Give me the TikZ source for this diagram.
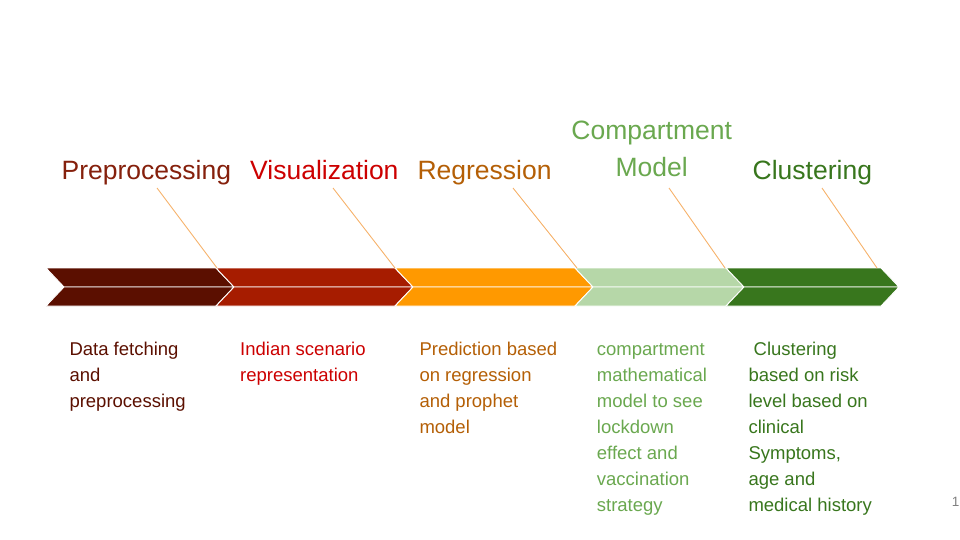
\documentclass[tikz,border=0pt]{standalone}
\usepackage{fontspec}
\setmainfont{Liberation Sans}
\definecolor{segA}{HTML}{5B0F00}
\definecolor{segB}{HTML}{A61C00}
\definecolor{segC}{HTML}{FF9900}
\definecolor{segD}{HTML}{B6D7A8}
\definecolor{segE}{HTML}{38761D}
\definecolor{txtA}{HTML}{85200C}
\definecolor{bodyA}{HTML}{5B0F00}
\definecolor{txtB}{HTML}{CC0000}
\definecolor{txtC}{HTML}{B45F06}
\definecolor{txtD}{HTML}{6AA84F}
\definecolor{txtE}{HTML}{38761D}
\definecolor{callout}{HTML}{F6B26B}
\begin{document}
\begin{tikzpicture}[x=1pt,y=-1pt,
  titletext/.style={inner sep=0pt,anchor=base west,font=\fontsize{26.5}{37}\selectfont},
  bodytext/.style={inner sep=0pt,anchor=base west,align=left,font=\fontsize{18.5}{26}\selectfont},
  piece/.style={draw=white,line width=0.9pt,line join=miter},
  calloutline/.style={draw=callout,line width=0.9pt}]
\useasboundingbox (0,0) rectangle (960,540);

% chevron band: each step is split into an upper and a lower half
\foreach \l/\r/\c in {46/216/segA,216/395/segB,395/575/segC,575/726/segD,726/881/segE}{
  \fill[\c,piece] (\l,268) -- (\r,268) -- (\r+18,287) -- (\l+18,287) -- cycle;
  \fill[\c,piece] (\l+18,287) -- (\r+18,287) -- (\r,306) -- (\l,306) -- cycle;
}

% step titles (multi-line nodes are placed by the baseline of their last line)
\node[titletext,text=txtA] (tA) at (61.5,179.3) {Preprocessing};
\node[titletext,text=txtB] (tB) at (250,179.3) {Visualization};
\node[titletext,text=txtC] (tC) at (417.3,179.8) {Regression};
\node[titletext,text=txtD,anchor=base,align=center] (tD) at (651.7,176.5) {Compartment\\Model};
\node[titletext,text=txtE] (tE) at (752.5,179.8) {Clustering};

% callout lines from the titles to the step corners
\coordinate (pA) at (157,188);  \coordinate (kA) at (217,268);
\coordinate (pB) at (333,188);  \coordinate (kB) at (395,268);
\coordinate (pC) at (513,188);  \coordinate (kC) at (577,268);
\coordinate (pD) at (669,188);  \coordinate (kD) at (725,268);
\coordinate (pE) at (822,188);  \coordinate (kE) at (877,268);
\foreach \s in {A,B,C,D,E}{\draw[calloutline] (p\s) -- (k\s);}

% step descriptions
\node[bodytext,text=bodyA] (dA) at (69.3,407.7) {Data fetching\\and\\preprocessing};
\node[bodytext,text=txtB] (dB) at (240,381.7) {Indian scenario\\representation};
\node[bodytext,text=txtC] (dC) at (419.3,433.7) {Prediction based\\on regression\\and prophet\\model};
\node[bodytext,text=txtD] (dD) at (596.7,511.7) {compartment\\mathematical\\model to see\\lockdown\\effect and\\vaccination\\strategy};
\node[bodytext,text=txtE] (dE) at (748.3,511.7) {\ Clustering\\based on risk\\level based on\\clinical\\Symptoms,\\age and\\medical history};

% slide number
\node[inner sep=0pt,anchor=base,text=black!50,font=\fontsize{13.5}{15}\selectfont] (num) at (955.5,506.5) {1};
\end{tikzpicture}
\end{document}
